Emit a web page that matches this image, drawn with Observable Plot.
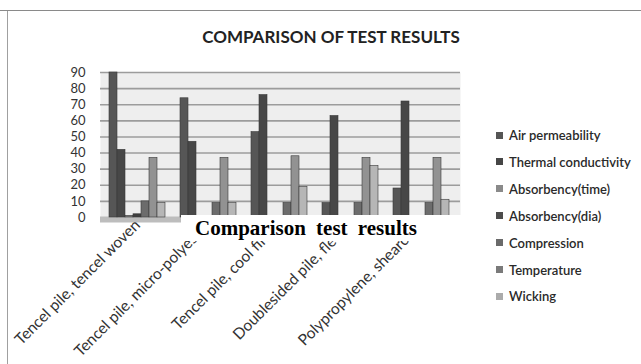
<!DOCTYPE html>
<html>
<head>
<meta charset="utf-8">
<script src="https://cdn.jsdelivr.net/npm/d3@7"></script>
<script src="https://cdn.jsdelivr.net/npm/@observablehq/plot@0.6"></script>
<style>
  html, body { margin: 0; padding: 0; background: #fff; }
  #page { position: relative; width: 641px; height: 364px; overflow: hidden; font-family: Lato, "Open Sans", sans-serif; }
  #page svg { position: absolute; left: 0; top: 0; }
  .rule-top { position: absolute; left: 0; top: 10px; width: 641px; height: 0; border-top: 1.5px solid #8a8a8a; }
  .rule-left { position: absolute; left: 7px; top: 11px; width: 0; height: 360px; border-left: 1px solid #a0a0a0; }
  #title { position: absolute; left: 0; top: 28px; width: 662px; text-align: center; font-weight: bold; font-size: 17px; line-height: 1; color: #222; }
  #legend { position: absolute; left: 496px; top: 0; }
  .lg { position: absolute; left: 0; height: 16px; display: flex; align-items: center; white-space: nowrap; font-size: 13px; font-weight: 600; color: #2a2a2a; }
  .lg i { display: inline-block; width: 7px; height: 7px; margin-right: 6px; }
  #caption { position: absolute; left: 181px; top: 215px; width: 300px; height: 26px; background: #fff; }
  #caption span { position: absolute; left: 14px; top: 1px; font-family: "Liberation Serif", "Times New Roman", serif; font-weight: bold; font-size: 21px; line-height: 24px; word-spacing: 5px; color: #000; white-space: nowrap; }
</style>
</head>
<body>
<div id="page">
  <div class="rule-top"></div>
  <div class="rule-left"></div>
  <div id="title">COMPARISON OF TEST RESULTS</div>
</div>
<script>
// Fabric samples compared
const categories = [
  "Tencel pile, tencel woven",
  "Tencel pile, micro-polyester",
  "Tencel pile, cool finish",
  "Doublesided pile, fleece",
  "Polypropylene, shearcoat"
];

// Measured properties (one bar per property in each sample group)
const series = [
  "Air permeability",
  "Thermal conductivity",
  "Absorbency(time)",
  "Absorbency(dia)",
  "Compression",
  "Temperature",
  "Wicking"
];

const airPermeability     = [90, 74, 53, 9, 18];
const thermalConductivity = [42, 47, 76, 63, 72];
const absorbencyTime      = [1, 0, 0, 1, 0];
const absorbencyDia       = [2, 0, 1, 0, 0];
const compression         = [10, 9, 9, 9, 9];
const temperature         = [37, 37, 38, 37, 37];
const wicking             = [9, 9, 19, 32, 11];

const yTicks = [0, 10, 20, 30, 40, 50, 60, 70, 80, 90];

const seriesColors = ["#565656", "#474747", "#7e7e7e", "#3f3f3f", "#6c6c6c", "#929292", "#b6b6b6"];
const legendColors = ["#555555", "#464646", "#8a8a8a", "#4c4c4c", "#6a6a6a", "#7a7a7a", "#ababab"];

const seriesValues = [airPermeability, thermalConductivity, absorbencyTime, absorbencyDia, compression, temperature, wicking];

const rows = [];
categories.forEach((c, ci) => {
  series.forEach((s, si) => rows.push({category: c, series: s, value: seriesValues[si][ci]}));
});

const W = 641, H = 364;
const common = {width: W, height: H, marginTop: 72, marginBottom: 147, marginLeft: 100};
const page = document.getElementById("page");

// Back wall, grid lines and value axis
const back = Plot.plot({
  ...common,
  marginRight: 181,
  style: {fontFamily: "Lato, 'Open Sans', sans-serif", fontSize: "13px", color: "#333", background: "transparent"},
  y: {domain: [0, 90], ticks: yTicks, tickSize: 0, tickPadding: 15, label: null},
  marks: [
    Plot.frame({fill: "#eeeeee", stroke: null}),
    Plot.ruleY(yTicks.slice(1), {stroke: "#9c9c9c", strokeWidth: 1.6, strokeOpacity: 1}),
    Plot.ruleY([0], {stroke: "#bdbdbd", strokeWidth: 6, strokeOpacity: 1, dy: 2})
  ]
});
page.appendChild(back);

// Grouped bars, one facet per sample
const bars = Plot.plot({
  ...common,
  marginRight: 183,
  style: {fontFamily: "Lato, 'Open Sans', sans-serif", fontSize: "15.5px", color: "#333", background: "transparent"},
  fx: {domain: categories, paddingInner: 0.16, paddingOuter: 0.1, axis: "bottom", label: null, tickRotate: -45, tickSize: 0, tickPadding: 5},
  x: {domain: series, padding: 0, axis: null},
  y: {domain: [0, 90], axis: null},
  color: {domain: series, range: seriesColors},
  marks: [
    Plot.barY(rows, {fx: "category", x: "series", y: "value", fill: "series", stroke: "#3a3a3a", strokeWidth: 0.6})
  ]
});
page.appendChild(bars);

// Legend
const legend = document.createElement("div");
legend.id = "legend";
series.forEach((s, i) => {
  const row = document.createElement("div");
  row.className = "lg";
  row.style.top = (127 + i * 26.9) + "px";
  const sw = document.createElement("i");
  sw.style.background = legendColors[i];
  row.appendChild(sw);
  row.appendChild(document.createTextNode(s));
  legend.appendChild(row);
});
page.appendChild(legend);

// Caption band across the lower edge of the plot
const caption = document.createElement("div");
caption.id = "caption";
caption.innerHTML = "<span>Comparison test results</span>";
page.appendChild(caption);
</script>
</body>
</html>
